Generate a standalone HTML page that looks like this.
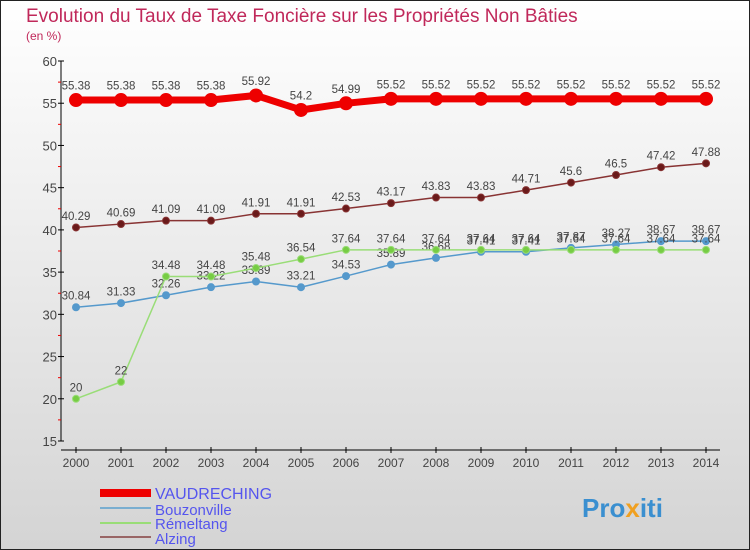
<!DOCTYPE html>
<html><head><meta charset="utf-8"><style>
body{margin:0}
#c{width:750px;height:550px;position:relative;overflow:hidden;font-family:"Liberation Sans",sans-serif}
</style></head><body>
<div id="c">
<svg id="s" width="750" height="550" xmlns="http://www.w3.org/2000/svg">
<defs><linearGradient id="bg" x1="0" y1="0" x2="0" y2="1"><stop offset="0" stop-color="#ffffff"/><stop offset="1" stop-color="#d4d4d4"/></linearGradient></defs>
<rect x="0.5" y="0.5" width="749" height="549" fill="url(#bg)" stroke="#222"/>
<text x="26" y="22" font-size="19" fill="#c0285a">Evolution du Taux de Taxe Foncière sur les Propriétés Non Bâties</text>
<text x="26" y="40" font-size="12" fill="#c0285a">(en %)</text>
<g id="axes"></g>
<g id="series"></g>
<g>
<rect x="100" y="489" width="51" height="8" fill="#e00"/>
<text x="155" y="499" font-size="16" fill="#5555ee">VAUDRECHING</text>
<rect x="100" y="507" width="51" height="2" fill="#7aaed0"/>
<text x="155" y="515" font-size="15" fill="#5555ee">Bouzonville</text>
<rect x="100" y="522" width="51" height="2" fill="#99dd77"/>
<text x="155" y="529" font-size="15" fill="#5555ee">Rémeltang</text>
<rect x="100" y="536" width="51" height="2" fill="#996666"/>
<text x="155" y="544" font-size="15" fill="#5555ee">Alzing</text>
</g>
<text x="582" y="517" font-size="26" font-weight="bold" fill="#3a8fd0">Pro<tspan fill="#f0a020">x</tspan>iti</text>
</svg>
</div>
<script>
const years=[2000,2001,2002,2003,2004,2005,2006,2007,2008,2009,2010,2011,2012,2013,2014];
const yTicks=[15,20,25,30,35,40,45,50,55,60];
const vaudreching=[55.38,55.38,55.38,55.38,55.92,54.2,54.99,55.52,55.52,55.52,55.52,55.52,55.52,55.52,55.52];
const bouzonville=[30.84,31.33,32.26,33.22,33.89,33.21,34.53,35.89,36.68,37.41,37.41,37.87,38.27,38.67,38.67];
const remeltang=[20,22,34.48,34.48,35.48,36.54,37.64,37.64,37.64,37.64,37.64,37.64,37.64,37.64,37.64];
const alzing=[40.29,40.69,41.09,41.09,41.91,41.91,42.53,43.17,43.83,43.83,44.71,45.6,46.5,47.42,47.88];
const NS="http://www.w3.org/2000/svg";
const X=i=>76+i*45;
const Y=v=>61+(60-v)*(380/45);
function mk(t,a,p){const e=document.createElementNS(NS,t);for(const k in a)e.setAttribute(k,a[k]);p.appendChild(e);return e;}
const ax=document.getElementById('axes');
let yl=mk('line',{x1:61,y1:61,x2:61,y2:441,stroke:'#000'},ax);


let xl=mk('line',{x1:61,y1:450,x2:720,y2:450,stroke:'#000'},ax);


yTicks.forEach(v=>{
 const tk=mk('line',{x1:58,y1:Y(v),x2:64,y2:Y(v),stroke:'#000'},ax);
 
 
 const t=mk('text',{x:57,y:Y(v)+5,'font-size':13,fill:'#444','text-anchor':'end'},ax);t.textContent=v;
 
 
 if(v<60){
  const m=mk('line',{x1:58,y1:Y(v+2.5),x2:61,y2:Y(v+2.5),stroke:'#e00'},ax);
  
  
 }
});
years.forEach((y,i)=>{
 const tk=mk('line',{x1:X(i),y1:447,x2:X(i),y2:453,stroke:'#000'},ax);
 
 
 const t=mk('text',{x:X(i),y:467,'font-size':12,fill:'#444','text-anchor':'middle'},ax);t.textContent=y;
 
 
});
const sg=document.getElementById('series');
function draw(name,vals,col,dot,w,r,fs){
 const g=mk('g',{},sg);
 
 
 const pl=mk('polyline',{points:vals.map((v,i)=>X(i)+','+Y(v)).join(' '),fill:'none',stroke:col,'stroke-width':w,'stroke-linejoin':'round'},g);
 
 
 vals.forEach((v,i)=>{
  const c=mk('circle',{cx:X(i),cy:Y(v),r:r,fill:dot,stroke:col,'stroke-width':1},g);
  
  
  const t=mk('text',{x:X(i),y:Y(v)-(r+4),'font-size':fs,fill:'#444','text-anchor':'middle'},g);t.textContent=v;
  
  
 });
}
draw('alzing',alzing,'#883333','#6a1a1a',1.5,3.5,11.5);
draw('bouzonville',bouzonville,'#5599cc','#5599cc',1.5,3.5,11.5);
draw('remeltang',remeltang,'#99dd77','#77cc44',1.5,3.5,11.5);
draw('vaudreching',vaudreching,'#ee0000','#ee0000',7,6.5,11.5);
</script>
</body></html>
